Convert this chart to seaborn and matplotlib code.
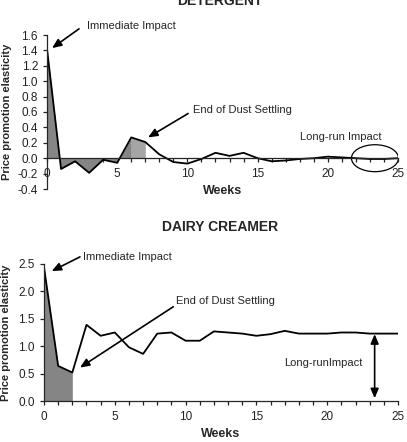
import numpy as np
import matplotlib
matplotlib.use("Agg")
import matplotlib.pyplot as plt
from matplotlib.patches import Ellipse
from matplotlib.ticker import MultipleLocator
import seaborn as sns

# --- data ---
weeks = list(range(26))
detergent = [1.42, -0.14, -0.04, -0.19, -0.02, -0.06, 0.27, 0.21, 0.05, -0.05,
             -0.07, -0.01, 0.07, 0.03, 0.07, 0.0, -0.04, -0.03, -0.01, 0.0,
             0.02, 0.01, 0.0, -0.01, -0.01, 0.0]
creamer = [2.44, 0.64, 0.52, 1.39, 1.19, 1.25, 0.98, 0.86, 1.23, 1.25,
           1.10, 1.10, 1.27, 1.25, 1.23, 1.19, 1.22, 1.28, 1.23, 1.23,
           1.23, 1.25, 1.25, 1.23, 1.23, 1.23]
det_dust_end = 7
cre_dust_end = 2

sns.set_style("ticks")
plt.rcParams["font.family"] = ["Liberation Sans", "DejaVu Sans"]
plt.rcParams.update({
    "font.size": 8,
    "xtick.labelsize": 8.5,
    "ytick.labelsize": 8.5,
    "axes.linewidth": 0.9,
    "xtick.major.width": 0.9,
    "ytick.major.width": 0.9,
    "xtick.minor.width": 0.9,
    "xtick.major.size": 3,
    "xtick.minor.size": 3,
    "ytick.major.size": 3,
    "xtick.color": "#222222",
    "ytick.color": "#222222",
})

fig = plt.figure(figsize=(4.07, 4.42), dpi=100)
ax1 = fig.add_axes([47 / 407, 1 - 189 / 442, 351 / 407, 154 / 442])
ax2 = fig.add_axes([44 / 407, 1 - 401 / 442, 354 / 407, 137 / 442])

arrow = dict(arrowstyle="-|>,head_length=0.7,head_width=0.3", lw=1.2,
             color="black", shrinkA=0, shrinkB=0)

def style(ax, ymin, ymax, ystep):
    ax.set_xlim(0, 25)
    ax.set_ylim(ymin, ymax)
    ax.spines["top"].set_visible(False)
    ax.spines["right"].set_visible(False)
    ax.spines["bottom"].set_position(("data", 0))
    ax.xaxis.set_major_locator(MultipleLocator(5))
    ax.xaxis.set_minor_locator(MultipleLocator(1))
    ax.yaxis.set_major_locator(MultipleLocator(ystep))
    ax.yaxis.set_major_formatter(matplotlib.ticker.FormatStrFormatter("%.1f"))
    ax.tick_params(axis="x", which="both", direction="out", pad=4)
    ax.set_xlabel("Weeks", fontweight="bold", fontsize=9, labelpad=4)
    ax.set_ylabel("Price promotion elasticity", fontweight="bold", fontsize=8)

# --- DETERGENT ---
x = np.array(weeks)
d = np.array(detergent)
sns.lineplot(x=weeks, y=detergent, ax=ax1, color="black", lw=1.3)
ax1.fill_between(x, d, 0, where=x <= 6, color="#858585", lw=0)
ax1.fill_between(x, d, 0, where=(x >= 6) & (x <= det_dust_end), color="#a5a5a5", lw=0)
style(ax1, -0.4, 1.6, 0.2)
ax1.yaxis.set_label_coords(-0.1, 0.5)
ax1.text(2.85, 1.72, "Immediate Impact", va="center", ha="left")
ax1.annotate("", xy=(0.36, 1.43), xytext=(2.28, 1.68), arrowprops=arrow)
ax1.text(10.4, 0.63, "End of Dust Settling", va="center", ha="left")
ax1.annotate("", xy=(7.2, 0.27), xytext=(10.05, 0.58), arrowprops=arrow)
ax1.text(20.9, 0.28, "Long-run Impact", va="center", ha="center")
ax1.add_patch(Ellipse((23.36, 0.0), 3.35, 0.35, fill=False, ec="black", lw=0.9))
fig.text(220 / 407, 0.998, "DETERGENT", ha="center", va="center",
         fontweight="bold", fontsize=10)

# --- DAIRY CREAMER ---
c = np.array(creamer)
sns.lineplot(x=weeks, y=creamer, ax=ax2, color="black", lw=1.3)
ax2.fill_between(x, c, 0, where=x <= cre_dust_end, color="#858585", lw=0)
style(ax2, 0, 2.5, 0.5)
ax2.yaxis.set_label_coords(-0.093, 0.5)
ax2.text(2.75, 2.63, "Immediate Impact", va="center", ha="left")
ax2.annotate("", xy=(0.54, 2.37), xytext=(2.54, 2.63), arrowprops=arrow)
ax2.text(9.3, 1.82, "End of Dust Settling", va="center", ha="left")
ax2.annotate("", xy=(2.54, 0.61), xytext=(9.13, 1.72), arrowprops=arrow)
ax2.text(19.7, 0.70, "Long-runImpact", va="center", ha="center")
ax2.annotate("", xy=(23.35, 0.05), xytext=(23.35, 1.22),
             arrowprops=dict(arrowstyle="<|-|>,head_length=0.7,head_width=0.3",
                             lw=1.2, color="black", shrinkA=0, shrinkB=0))
fig.text(220 / 407, 0.487, "DAIRY CREAMER", ha="center", va="center",
         fontweight="bold", fontsize=10)

fig.savefig("out.png", dpi=100)
plt.close(fig)
